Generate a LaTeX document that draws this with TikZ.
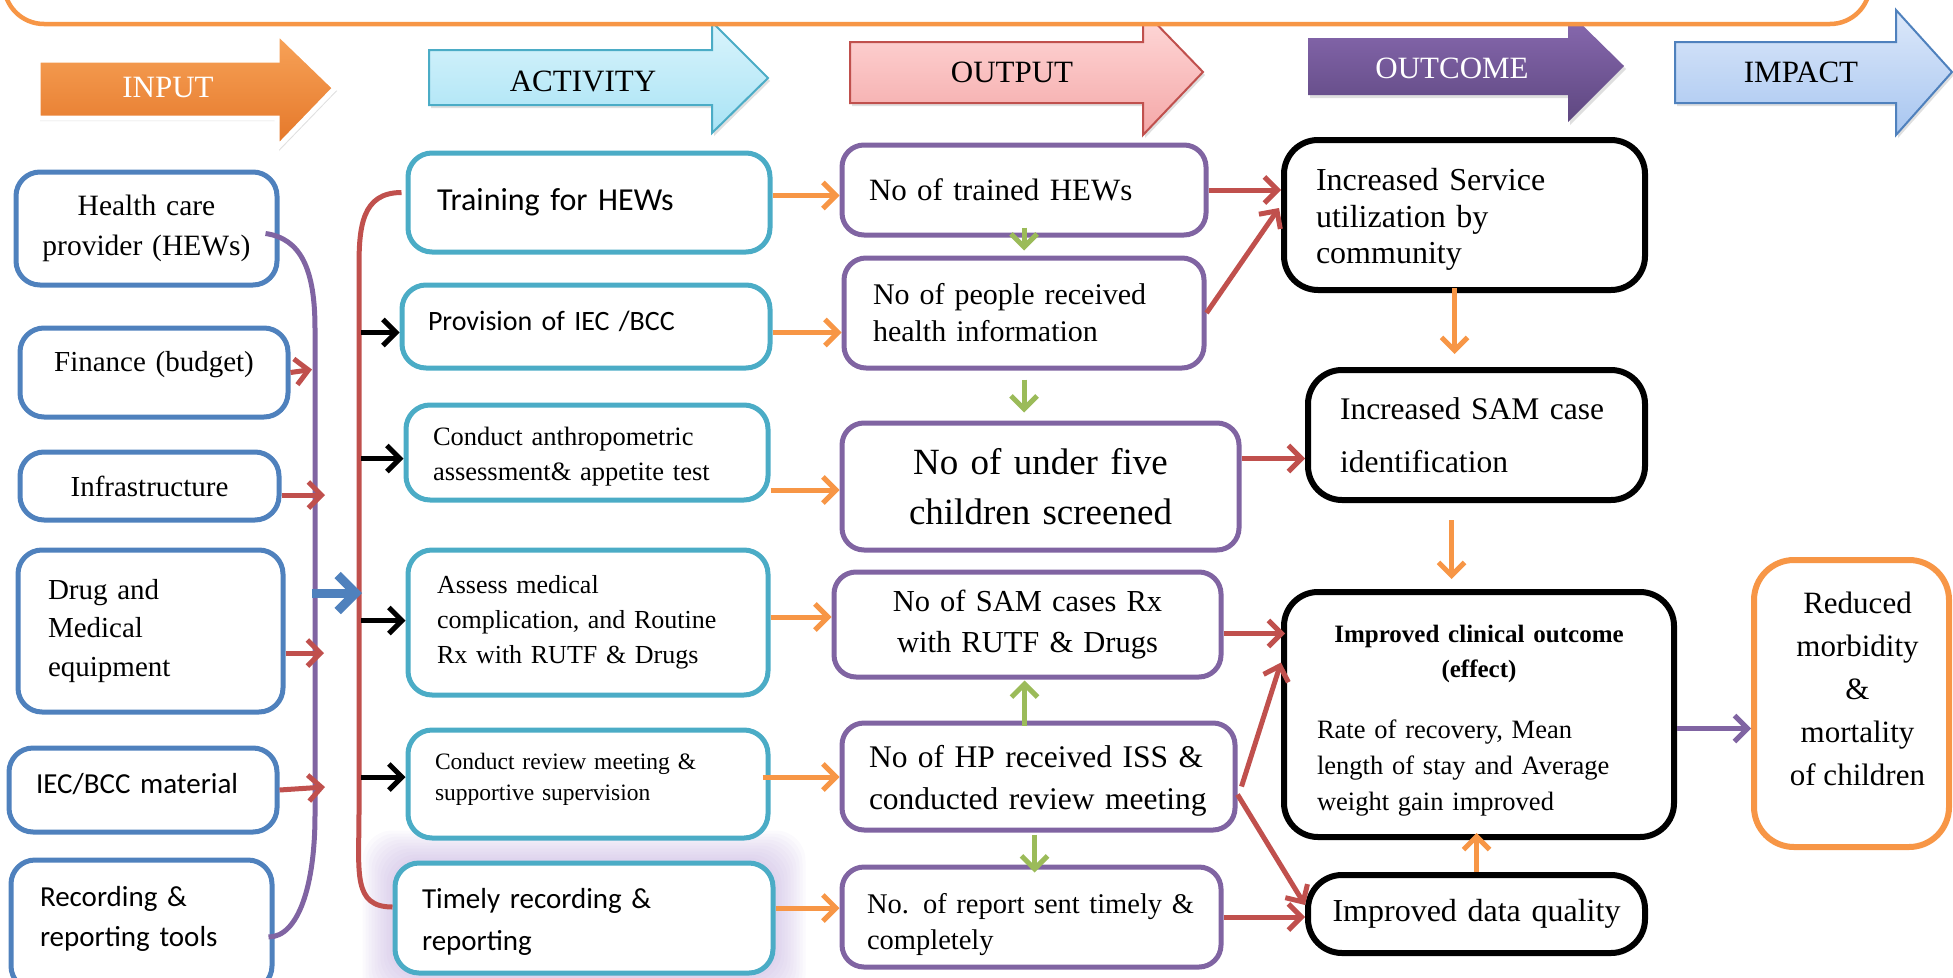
\documentclass[tikz,border=0pt]{standalone}
\usepackage{fontspec}
\setmainfont{Liberation Serif}
\newfontfamily\calfont{Carlito}
\usepackage{tikz}
\usetikzlibrary{arrows.meta,positioning,calc,shadows}
\usepackage{xcolor}
\setlength{\parindent}{0pt}

\definecolor{inblue}{HTML}{4F81BD}
\definecolor{actteal}{HTML}{4BACC6}
\definecolor{outpurple}{HTML}{8064A2}
\definecolor{accorange}{HTML}{F79646}
\definecolor{accred}{HTML}{C0504D}
\definecolor{accgreen}{HTML}{9BBB59}
\definecolor{glowlav}{HTML}{B9A3DA}

\newcommand\fntsz[2]{\fontsize{#1pt}{#2pt}\selectfont}
\newcommand\liftby[2]{\raisebox{#1}[\height][\depth]{#2}}
\newcommand\topstrut[1]{\rule{0pt}{#1}}
\newcommand\botstrut[1]{\rule[-#1]{0pt}{0pt}}

\pgfdeclarelayer{background}
\pgfsetlayers{background,main}

\tikzset{
  hdrarrow/.style={line width=2pt, drop shadow={opacity=0.25,shadow xshift=2pt,shadow yshift=-3pt}},
  hdrtxt/.style={font=\fntsz{31}{36}},
  inbox/.style={draw=inblue, line width=5pt, rounded corners=24pt, fill=white},
  actbox/.style={draw=actteal, line width=5pt, rounded corners=24pt, fill=white},
  outbox/.style={draw=outpurple, line width=5pt, rounded corners=22pt, fill=white},
  ocbox/.style={draw=black, line width=6pt, rounded corners=34pt, fill=white},
  impbox/.style={draw=accorange, line width=6pt, rounded corners=40pt, fill=white},
  arr/.style={line width=5pt, -{Straight Barb[length=13pt,width=26pt]}},
  orarr/.style={arr, draw=accorange},
  redarr/.style={arr, draw=accred},
  grarr/.style={arr, draw=accgreen},
  blkarr/.style={arr, draw=black},
  purarr/.style={arr, draw=outpurple},
  bluearr/.style={line width=9pt, draw=inblue, -{Straight Barb[length=18pt,width=36pt]}},
  redline/.style={draw=accred, line width=5pt},
  purline/.style={draw=outpurple, line width=5pt}
}

\begin{document}
\begin{tikzpicture}[x=1pt,y=-1pt,>=Latex]
\useasboundingbox (0,0) rectangle (1953,977);

\path[hdrarrow, draw=white, line width=5pt, top color={rgb,255:red,248;green,164;blue,90}, bottom color={rgb,255:red,228;green,118;blue,40}]
  (38,60) -- (277,60) -- (277,32) -- (335,88) -- (277,148) -- (277,118) -- (38,118) -- cycle;
\path[hdrarrow, draw=actteal, top color={rgb,255:red,218;green,244;blue,252}, bottom color={rgb,255:red,168;green,227;blue,245}]
  (429,50) -- (712,50) -- (712,22) -- (768,78) -- (712,133) -- (712,105) -- (429,105) -- cycle;
\path[hdrarrow, draw=accred, top color={rgb,255:red,255;green,218;blue,218}, bottom color={rgb,255:red,244;green,167;blue,167}]
  (850,42) -- (1143,42) -- (1143,10) -- (1203,72) -- (1143,135) -- (1143,103) -- (850,103) -- cycle;
\path[hdrarrow, top color={rgb,255:red,138;green,107;blue,178}, bottom color={rgb,255:red,94;green,71;blue,128}]
  (1308,38) -- (1568,38) -- (1568,11) -- (1624,66) -- (1568,122) -- (1568,95) -- (1308,95) -- cycle;
\path[hdrarrow, draw=inblue, top color={rgb,255:red,220;green,232;blue,250}, bottom color={rgb,255:red,168;green,198;blue,240}]
  (1675,42) -- (1896,42) -- (1896,10) -- (1952,72) -- (1896,135) -- (1896,103) -- (1675,103) -- cycle;

\draw[accorange, line width=4.5pt, fill=white, rounded corners=40pt] (4,-80) rectangle (1870,24);

\node[hdrtxt, text=white] (hinput) at (168,88) {INPUT};
\node[hdrtxt] (hact) at (583,81) {ACTIVITY};
\node[hdrtxt] (hout) at (1012,72) {OUTPUT};
\node[hdrtxt, text=white] (hoc) at (1452,68) {OUTCOME};
\node[hdrtxt] (himp) at (1801,72) {IMPACT};

\node[inbox, minimum width=261pt, minimum height=113pt, text width=240pt, align=center, font=\fntsz{29.5}{40}] (hcp) at (146.5,228.5) {Health care\\provider (HEWs)};
\node[inbox, minimum width=268pt, minimum height=89pt, text width=248pt, align=center, font=\fntsz{29}{35}] (fin) at (154,372.5) {\liftby{7.5pt}{Finance (budget)}};
\node[inbox, minimum width=259pt, minimum height=68pt, text width=240pt, align=center, font=\fntsz{29}{35}] (infra) at (149.5,486) {Infrastructure};
\node[inbox, minimum width=265pt, minimum height=162pt, text width=205pt, inner xsep=30pt, align=left, font=\fntsz{29}{38.5}] (drug) at (150.5,631) {Drug and\\Medical\\equipment};
\node[inbox, minimum width=268pt, minimum height=84pt, text width=214pt, inner xsep=27pt, align=left, font=\calfont\fntsz{29}{35}] (iec) at (143,790) {\liftby{6pt}{IEC/BCC material}};
\node[inbox, minimum width=261pt, minimum height=130pt, text width=203pt, inner xsep=29pt, align=left, font=\calfont\fntsz{29}{40}] (rec) at (141.5,925) {Recording \&\\reporting tools\botstrut{18pt}};

\node[actbox, minimum width=362pt, minimum height=99pt, text width=304pt, inner xsep=29pt, align=left, font=\calfont\fntsz{32}{38}] (train) at (589,202.5) {Training for HEWs};
\node[actbox, minimum width=368pt, minimum height=83pt, text width=316pt, inner xsep=26pt, align=left, font=\calfont\fntsz{28}{34}] (prov) at (586,326.5) {\liftby{5pt}{Provision of IEC /BCC}};
\node[actbox, minimum width=362pt, minimum height=95pt, text width=308pt, inner xsep=27pt, align=left, font=\fntsz{26.5}{35}] (anthro) at (587,452.5) {\topstrut{27pt}Conduct anthropometric\\assessment\& appetite test};
\node[actbox, minimum width=360pt, minimum height=145pt, text width=302pt, inner xsep=29pt, align=left, font=\fntsz{26}{35}] (assess) at (588,622.5) {Assess medical\\complication, and Routine\\Rx with RUTF \& Drugs};
\node[actbox, minimum width=360pt, minimum height=108pt, text width=306pt, inner xsep=27pt, align=left, font=\fntsz{23.5}{31}] (review) at (588,784) {Conduct review meeting \&\\supportive supervision\botstrut{14pt}};
\node[actbox, minimum width=378pt, minimum height=110pt, text width=324pt, inner xsep=27pt, align=left, font=\calfont\fntsz{29}{42}] (timely) at (584,918) {\topstrut{28pt}Timely recording \&\\reporting};

\begin{pgfonlayer}{background}
\foreach \g in {3,6,...,30}
  \fill[glowlav, opacity=0.06, rounded corners=30pt] ($(timely.south west)+(-\g,\g)$) rectangle ($(timely.north east)+(\g,-\g)$);
\end{pgfonlayer}

\node[outbox, minimum width=364pt, minimum height=90pt, text width=310pt, inner xsep=27pt, align=left, font=\fntsz{31}{37}] (ntrain) at (1024,190) {No of trained HEWs};
\node[outbox, minimum width=360pt, minimum height=110pt, text width=302pt, inner xsep=29pt, align=left, font=\fntsz{30}{37}] (npeople) at (1024,313) {No of people received\\health information};
\node[outbox, minimum width=397pt, minimum height=127pt, text width=370pt, align=center, font=\fntsz{37}{50}] (nscreen) at (1040.5,486.5) {No of under five\\children screened};
\node[outbox, minimum width=387pt, minimum height=105pt, text width=360pt, align=center, font=\fntsz{30.5}{41}] (nsam) at (1027.5,624.5) {No of SAM cases Rx\\with RUTF \& Drugs};
\node[outbox, minimum width=393pt, minimum height=107pt, text width=339pt, inner xsep=27pt, align=left, font=\fntsz{31.5}{42}] (nhp) at (1038.5,776.5) {\topstrut{31.3pt}No of HP received ISS \&\\conducted review meeting};
\node[outbox, minimum width=379pt, minimum height=100pt, text width=329pt, inner xsep=25pt, align=left, font=\fntsz{28.5}{36}] (nreport) at (1031.5,917) {\topstrut{34.5pt}No. of report sent timely \&\\completely};

\node[ocbox, minimum width=361pt, minimum height=150pt, text width=297pt, inner xsep=32pt, align=left, font=\fntsz{32}{36.5}] (usage) at (1464.5,215) {\topstrut{31pt}Increased Service\\utilization by\\community};
\node[ocbox, minimum width=337pt, minimum height=130pt, text width=273pt, inner xsep=32pt, align=left, font=\fntsz{31.5}{53}] (samid) at (1476.5,435) {Increased SAM case\\identification};
\node[ocbox, minimum width=390pt, minimum height=245pt, text width=324pt, inner xsep=33pt, font=\fntsz{26.5}{36}] (clinical) at (1479,714.5)
  {{\fntsz{25}{35}\centering\bfseries\topstrut{29.5pt}Improved clinical outcome\\(effect)\par}\vspace{24.5pt}{\raggedright Rate of recovery, Mean\\length of stay and Average\\weight gain improved\par}};
\node[ocbox, minimum width=337pt, minimum height=78pt, text width=310pt, align=center, font=\fntsz{32}{38}] (dataq) at (1476.5,914) {Improved data quality};
\node[impbox, minimum width=195pt, minimum height=287pt] (reduced) at (1851.5,703.5) {};
\node[align=center, font=\fntsz{31}{43}] (reducedtxt) at ($(reduced.center)+(6,-15)$) {Reduced\\morbidity\\\&\\mortality\\of children};

\coordinate (purx) at (315,0);
\coordinate (redx) at (359,0);

\draw[purline] ($(hcp.east)+(-14,5)$) .. controls +(35,5) and +(0,-60) .. ($(purx |- hcp.east)+(0,100)$)
  -- ($(purx |- rec.east)+(0,-110)$) .. controls +(0,70) and +(30,0) .. ($(rec.east)+(-6,12)$);
\draw[redline] ($(train.west)+(-4,-10)$) .. controls +(-40,0) and +(0,-40) .. ($(redx |- train.west)+(0,65)$)
  -- ($(redx |- timely.west)+(0,-105)$) .. controls +(0,60) and +(-40,0) .. ($(timely.west)+(0,-11)$);

\draw[redarr] (fin.east) -- ($(fin.east -| purx)+(-3,-3)$);
\draw[redarr] ($(infra.east)+(0,9)$) -- ($(infra.east -| purx)+(10,9)$);
\draw[redarr] ($(drug.east)+(0,22)$) -- ($(drug.east -| purx)+(9,22)$);
\draw[redarr] (iec.east) -- ($(iec.east -| purx)+(10,-3)$);
\draw[bluearr] ($(purx |- drug.center)+(-3,-38)$) -- ($(redx |- drug.center)+(3,-38)$);

\foreach \b/\dy in {prov/6,anthro/6,assess/-2,review/-7}
  \draw[blkarr] ($(redx |- \b.west)+(2,\dy)$) -- ($(\b.west)+(0,\dy)$);

\draw[orarr] ($(train.east)+(0,-7)$) -- ($(train.east -| ntrain.west)+(0,-7)$);
\draw[orarr] ($(prov.east)+(0,6)$) -- ($(prov.east -| npeople.west)+(0,6)$);
\draw[orarr] ($(anthro.east)+(0,37.5)$) -- ($(anthro.east -| nscreen.west)+(0,37.5)$);
\draw[orarr] ($(assess.east)+(0,-5.5)$) -- ($(assess.east -| nsam.west)+(0,-5.5)$);
\draw[orarr] ($(review.east)+(-8,-7)$) -- ($(review.east -| nhp.west)+(0,-7)$);
\draw[orarr] ($(timely.east)+(0,-10)$) -- ($(timely.east -| nreport.west)+(0,-10)$);

\draw[grarr] ($(ntrain.south)+(0,-10)$) -- ($(npeople.north)+(0,-5)$);
\draw[grarr] ($(npeople.south)+(0,9)$) -- ($(npeople.south |- nscreen.north)+(0,-8)$);
\draw[grarr] ($(nsam.south |- nhp.north)+(-3,5)$) -- ($(nsam.south)+(-3,1)$);
\draw[grarr] ($(nhp.south)+(-4,2)$) -- ($(nhp.south |- nreport.north)+(-4,8)$);

\draw[redarr] (ntrain.east) -- (ntrain.east -| usage.west);
\draw[redarr] (npeople.east) -- ($(usage.west)+(-2,-7)$);
\draw[redarr] ($(nscreen.east)+(0,-28)$) -- ($(nscreen.east -| samid.west)+(0,-28)$);
\draw[redarr] ($(nsam.east)+(0,9)$) -- ($(nsam.east -| clinical.west)+(4,9)$);
\draw[redarr] ($(nhp.east)+(4,10)$) -- ($(clinical.west)+(0,-52)$);
\draw[redarr] ($(nhp.east)+(0,18)$) -- ($(dataq.west)+(0,-9)$);
\draw[redarr] (nreport.east) -- (nreport.east -| dataq.west);

\draw[orarr] ($(usage.south)+(-10,-5)$) -- ($(usage.south |- samid.north)+(-10,-13)$);
\draw[orarr] ($(samid.south)+(-25,17)$) -- ($(samid.south |- clinical.north)+(-25,-10)$);
\draw[orarr] (dataq.north) -- ($(dataq.north |- clinical.south)+(0,-7)$);
\draw[purarr] ($(clinical.east)+(0,14)$) -- ($(clinical.east -| reduced.west)+(0,14)$);
\end{tikzpicture}
\end{document}
